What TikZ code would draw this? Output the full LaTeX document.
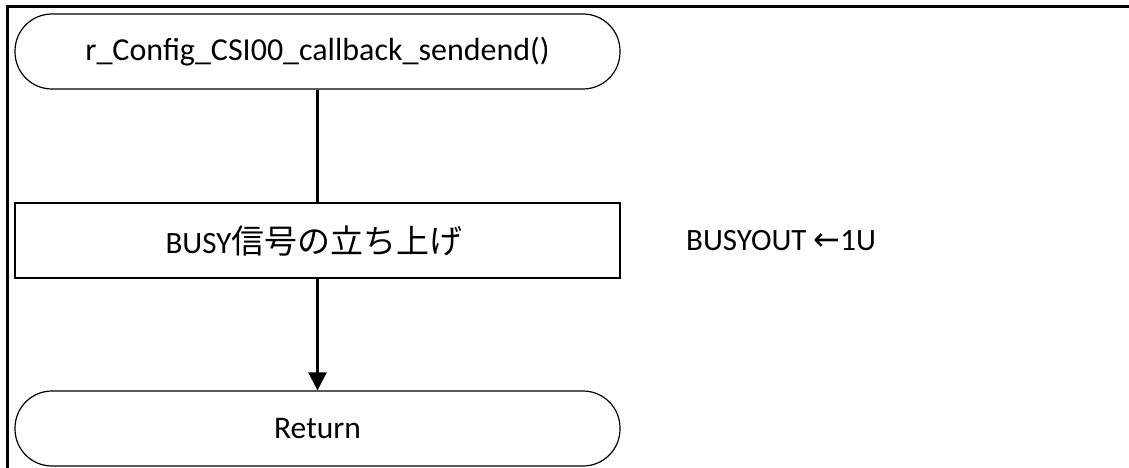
\documentclass[tikz,border=0pt]{standalone}
\usepackage{fontspec}
\setmainfont{Carlito}
\newfontfamily\jpfont{Noto Sans CJK JP}
\newfontfamily\dvfont{DejaVu Sans}
\usetikzlibrary{arrows.meta}
\begin{document}
\begin{tikzpicture}[x=1pt,y=-1pt,
  term/.style={draw, line width=1.2pt, rounded corners=37pt, minimum width=605pt, minimum height=75pt, inner sep=0pt, font=\fontsize{31.5}{36}\selectfont},
  procbox/.style={draw, line width=1.2pt, minimum width=605pt, minimum height=75pt, inner sep=0pt, font=\fontsize{31}{36}\selectfont},
  flow/.style={line width=2.6pt},
  lbl/.style={inner sep=0pt, font=\fontsize{31}{36}\selectfont}
]
\useasboundingbox (0,0) rectangle (1129,468);
\draw[line width=2.8pt] (7.5,470) -- (7.5,6.8) -- (1130,6.8);
\node[term, font=\fontsize{32}{36}\selectfont] (start) at (317.5,51.5) {r\_Config\_CSI00\_callback\_sendend()};
\node[procbox] (proc) at (317.5,240.5) {\hspace*{-7pt}BUSY{\jpfont\fontsize{33}{38}\selectfont 信号の立ち上げ}};
\node[term] (ret) at (317.5,428.5) {Return};
\node[lbl, anchor=west] (note) at (686,241) {BUSYOUT {\dvfont\fontsize{32}{36}\selectfont ←}1U};
\draw[flow] (start.south) -- (proc.north);
\draw[flow, -{Triangle[length=18pt,width=18pt]}] (proc.south) -- (ret.north);
\end{tikzpicture}
\end{document}
